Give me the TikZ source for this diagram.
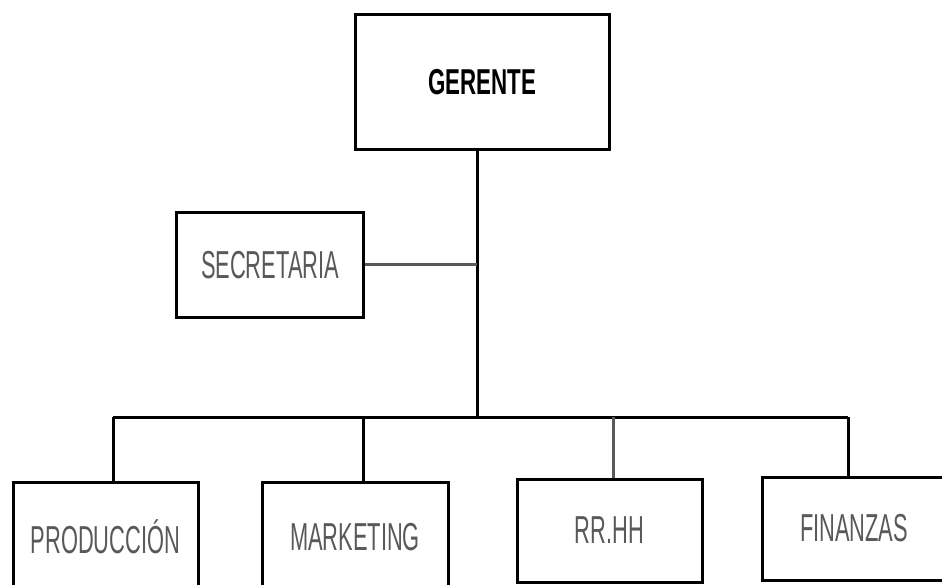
\documentclass[tikz,border=0pt]{standalone}
\usepackage{fontspec}
\setmainfont{Liberation Sans}
\newfontfamily\narrowfont[FakeStretch=0.56]{Liberation Sans}
\newfontfamily\narrowbold[FakeStretch=0.62]{Liberation Sans Bold}
\definecolor{txtgray}{gray}{0.35}
\begin{document}
\begin{tikzpicture}[x=1pt,y=-1pt,
  box/.style={draw=black, line width=3pt, rectangle, inner sep=0pt, fill=white,
    font=\narrowfont\fontsize{39}{39}\selectfont, text=txtgray},
  conn/.style={line width=3pt, draw=black},
  gconn/.style={line width=3pt, draw=black!65}]
\useasboundingbox (0,0) rectangle (942,585);
\clip (0,0) rectangle (942,585);
\fill[white] (0,0) rectangle (942,585);

\node[box, minimum width=254pt, minimum height=135pt, text=black,
  font=\narrowbold\fontsize{36}{36}\selectfont] (ger) at (482,82) {GERENTE};
\node[box, minimum width=187pt, minimum height=104pt] (sec) at (270,265) {SECRETARIA};
\node[box, minimum width=185pt, minimum height=110pt] (prod) at (105.5,537) {PRODUCCIÓN};
\node[box, minimum width=186pt, minimum height=110pt] (mkt) at (355,537) {MARKETING};
\node[box, minimum width=185pt, minimum height=103pt] (rrhh) at (609.5,530.5) {RR.HH};
\node[box, minimum width=184pt, minimum height=103pt] (fin) at (854,528.5) {FINANZAS};

\coordinate (bus) at (477,417);
\coordinate (d1) at (113,417);
\coordinate (d2) at (363,417);
\coordinate (d3) at (613,417);
\coordinate (d4) at (848,417);

\draw[conn] (ger.south -| bus) -- (bus);
\draw[gconn] (sec.east) -- (sec.east -| bus);
\draw[conn] (d1) -- (d4);
\draw[conn] (d1) -- (d1 |- prod.north);
\draw[conn] (d2) -- (d2 |- mkt.north);
\draw[gconn] (d3) -- (d3 |- rrhh.north);
\draw[conn] (d4) -- (d4 |- fin.north);
\end{tikzpicture}
\end{document}
